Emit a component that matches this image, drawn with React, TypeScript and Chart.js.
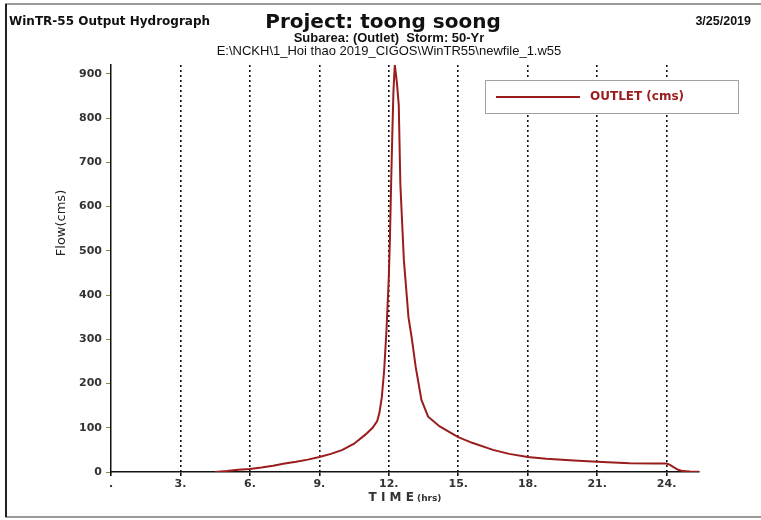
import { useEffect, useRef } from "react";
import { Chart, registerables } from "chart.js";

Chart.register(...registerables);

// ---- data ----
const TIME = [4.5, 5.0, 5.5, 6.0, 6.5, 7.0, 7.5, 8.0, 8.5, 9.0, 9.5, 10.0, 10.5, 11.0, 11.3, 11.5, 11.6, 11.7, 11.8, 11.9, 12.0, 12.05, 12.1, 12.15, 12.2, 12.26, 12.35, 12.43, 12.5, 12.65, 12.85, 13.0, 13.16, 13.41, 13.7, 14.2, 14.7, 15.0, 15.6, 16.5, 17.2, 18.0, 18.8, 20.0, 21.0, 22.4, 23.5, 24.0, 24.15, 24.3, 24.5, 24.7, 25.0, 25.4];
const FLOW = [0, 2, 5, 7, 10, 14, 19, 23, 28, 34, 41, 50, 64, 85, 100, 115, 135, 170, 230, 320, 440, 530, 650, 760, 860, 920, 880, 830, 650, 480, 350, 300, 238, 163, 125, 103, 88, 79, 66, 50, 41, 34, 30, 26, 23, 20, 19, 19, 16, 11, 5, 2, 1, 0.5];
const X_TICKS = [0, 3, 6, 9, 12, 15, 18, 21, 24];
const Y_TICKS = [0, 100, 200, 300, 400, 500, 600, 700, 800, 900];
const X_MAX = 25.4;
const Y_MAX = 920;
const SERIES_LABEL = "OUTLET (cms)";
const TITLE_LEFT = "WinTR-55 Output Hydrograph";
const TITLE = "Project: toong soong";
const SUBTITLE = "Subarea: (Outlet)  Storm: 50-Yr";
const FILE_PATH = "E:\\NCKH\\1_Hoi thao 2019_CIGOS\\WinTR55\\newfile_1.w55";
const DATE_TEXT = "3/25/2019";
const Y_TITLE = "Flow(cms)";
const X_TITLE_MAIN = "T I M E";
const X_TITLE_UNIT = " (hrs)";

const LINE_COLOR = "#9a1c1c";
const FONT = '"DejaVu Sans", "Liberation Sans", Arial, sans-serif';
const FONT_ARIAL = '"Liberation Sans", Arial, sans-serif';

const decor = {
  id: "decor",
  beforeDraw(chart: any) {
    const ctx = chart.ctx;
    ctx.save();
    ctx.fillStyle = "#ffffff";
    ctx.fillRect(0, 0, chart.width, chart.height);
    ctx.restore();
  },
  afterDraw(chart: any) {
    const ctx = chart.ctx;
    ctx.save();
    // frame
    ctx.lineWidth = 2;
    ctx.strokeStyle = "#9a9a9a";
    ctx.beginPath();
    ctx.moveTo(5, 4);
    ctx.lineTo(761, 4);
    ctx.moveTo(5, 517);
    ctx.lineTo(761, 517);
    ctx.stroke();
    ctx.strokeStyle = "#222222";
    ctx.beginPath();
    ctx.moveTo(6, 4);
    ctx.lineTo(6, 517);
    ctx.stroke();

    // header texts
    ctx.fillStyle = "#111111";
    ctx.textBaseline = "alphabetic";
    ctx.font = `bold 12px ${FONT}`;
    ctx.textAlign = "left";
    ctx.fillText(TITLE_LEFT, 9, 25);
    ctx.textAlign = "right";
    ctx.font = `bold 12.5px ${FONT_ARIAL}`;
    ctx.fillText(DATE_TEXT, 751, 25);
    ctx.textAlign = "center";
    ctx.font = `bold 20px ${FONT}`;
    ctx.fillText(TITLE, 383, 28);
    ctx.font = `bold 13px ${FONT_ARIAL}`;
    ctx.fillText(SUBTITLE, 389, 42);
    ctx.font = `13px ${FONT_ARIAL}`;
    ctx.fillText(FILE_PATH, 389, 55);

    // y title
    ctx.save();
    ctx.translate(62, 223);
    ctx.rotate(-Math.PI / 2);
    ctx.textAlign = "center";
    ctx.textBaseline = "middle";
    ctx.font = `13px ${FONT}`;
    ctx.fillStyle = "#222222";
    ctx.fillText(Y_TITLE, 0, 0);
    ctx.restore();

    // x title
    ctx.textBaseline = "alphabetic";
    ctx.textAlign = "left";
    ctx.font = `bold 12px ${FONT}`;
    const w1 = ctx.measureText(X_TITLE_MAIN).width;
    ctx.font = `bold 9px ${FONT}`;
    const w2 = ctx.measureText(X_TITLE_UNIT).width;
    const x0 = 405 - (w1 + w2) / 2;
    ctx.fillStyle = "#333333";
    ctx.font = `bold 12px ${FONT}`;
    ctx.fillText(X_TITLE_MAIN, x0, 501);
    ctx.font = `bold 9px ${FONT}`;
    ctx.fillText(X_TITLE_UNIT, x0 + w1, 501);

    // legend
    const ds = chart.data.datasets[0];
    ctx.fillStyle = "#ffffff";
    ctx.fillRect(485, 80, 253, 33);
    ctx.lineWidth = 1;
    ctx.strokeStyle = "#a0a0a0";
    ctx.strokeRect(485.5, 80.5, 253, 33);
    ctx.strokeStyle = ds.borderColor;
    ctx.lineWidth = 2;
    ctx.beginPath();
    ctx.moveTo(496, 97);
    ctx.lineTo(580, 97);
    ctx.stroke();
    ctx.fillStyle = ds.borderColor;
    ctx.font = `bold 12px ${FONT}`;
    ctx.textBaseline = "middle";
    ctx.fillText(ds.label, 590, 97);
    ctx.restore();
  },
};

export default function App() {
  const ref = useRef<HTMLCanvasElement | null>(null);

  useEffect(() => {
    if (!ref.current) return;
    const points = TIME.map((t, i) => ({ x: t, y: FLOW[i] }));
    const chart = new Chart(ref.current, {
      type: "line",
      data: {
        datasets: [
          {
            label: SERIES_LABEL,
            data: points,
            borderColor: LINE_COLOR,
            backgroundColor: LINE_COLOR,
            borderWidth: 2,
            pointRadius: 0,
            tension: 0,
            fill: false,
          },
        ],
      },
      options: {
        animation: false,
        responsive: false,
        maintainAspectRatio: false,
        devicePixelRatio: 1,
        layout: { padding: { left: 0, right: 62, top: 65, bottom: 0 } },
        plugins: {
          legend: { display: false },
          title: { display: false },
          tooltip: { enabled: false },
        },
        scales: {
          x: {
            type: "linear",
            min: 0,
            max: X_MAX,
            afterBuildTicks: (scale: any) => {
              scale.ticks = X_TICKS.map((v) => ({ value: v }));
            },
            afterFit: (scale: any) => {
              scale.height = 48;
            },
            ticks: {
              autoSkip: false,
              maxRotation: 0,
              padding: 2,
              color: "#333333",
              font: { family: FONT, size: 11, weight: "bold" },
              callback: (v: any) => (Number(v) === 0 ? "." : `${v}.`),
            },
            grid: {
              color: (c: any) => (c.tick && c.tick.value === 0 ? "rgba(0,0,0,0)" : "#111111"),
              lineWidth: 1.6,
              drawTicks: true,
              tickLength: 4,
              tickColor: "#111111",
            },
            border: { display: true, color: "#111111", width: 1.5, dash: [2, 3] },
          },
          y: {
            type: "linear",
            min: 0,
            max: Y_MAX,
            afterBuildTicks: (scale: any) => {
              scale.ticks = Y_TICKS.map((v) => ({ value: v }));
            },
            afterFit: (scale: any) => {
              scale.width = 111;
            },
            ticks: {
              padding: 4,
              color: "#333333",
              font: { family: FONT, size: 11, weight: "bold" },
            },
            grid: {
              drawOnChartArea: false,
              drawTicks: true,
              tickLength: 5,
              tickColor: "#8a8a3a",
            },
            border: { display: true, color: "#111111", width: 1.5 },
          },
        },
      },
      plugins: [decor],
    });
    return () => chart.destroy();
  }, []);

  return (
    <div style={{ position: "absolute", left: 0, top: 0, width: 761, height: 520 }}>
      <canvas ref={ref} width={761} height={520} style={{ width: 761, height: 520, display: "block" }} />
    </div>
  );
}
